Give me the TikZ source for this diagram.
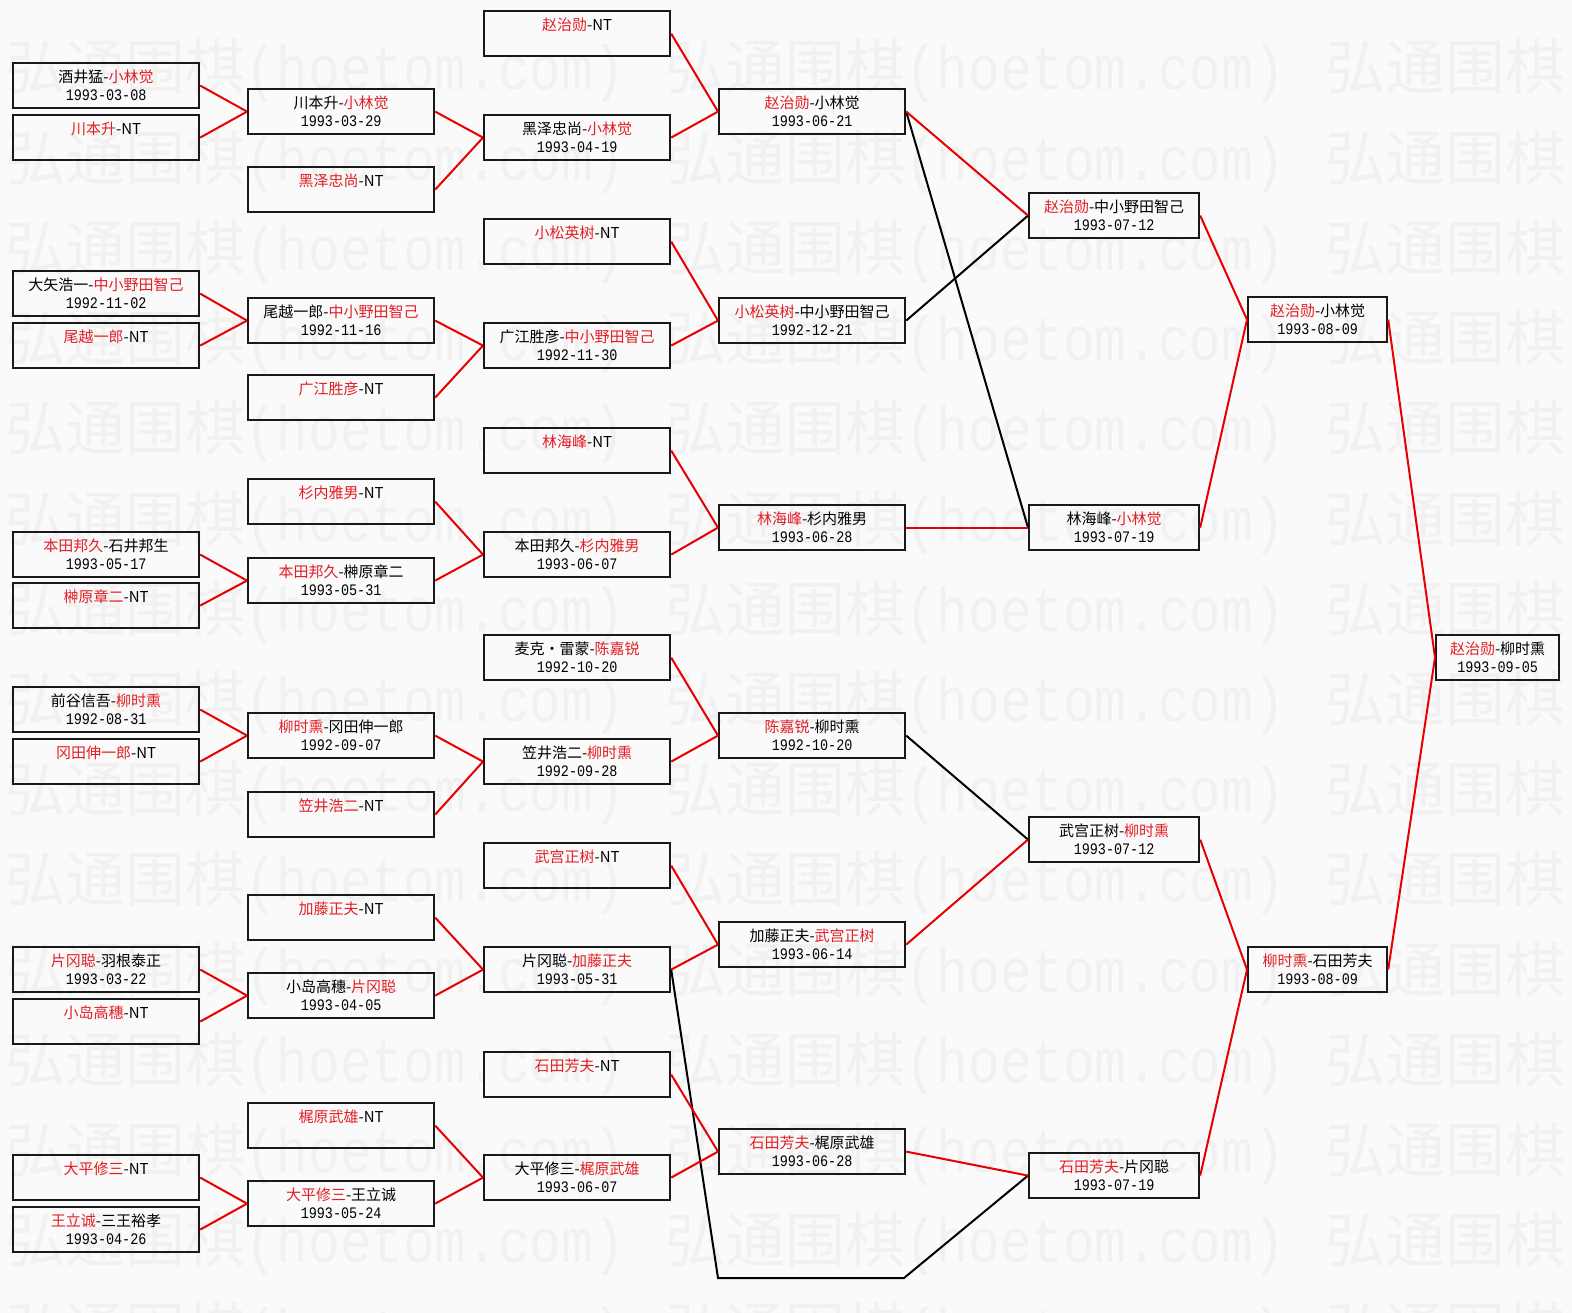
\documentclass[tikz,border=0pt]{standalone}
\usepackage{fontspec}
\usepackage{graphicx}
\setmainfont{Noto Sans CJK SC}
\newfontfamily\monof{Liberation Mono}
\definecolor{wr}{RGB}{226,30,38}
\definecolor{lr}{RGB}{232,0,0}
\definecolor{bgc}{RGB}{250,250,250}
\definecolor{wmc}{RGB}{241,241,241}
\definecolor{bdc}{RGB}{25,25,25}
\newcommand\R[1]{\textcolor{wr}{#1}}
\newcommand\dt[1]{\scalebox{0.84}[1]{#1}}
\tikzset{
 boxst/.style={draw=bdc, line width=2.2pt, minimum height=45pt, inner sep=0pt, anchor=north west},
 namest/.style={font=\fontsize{15}{15}\selectfont, inner sep=0pt, text=black},
 datest/.style={font=\fontsize{16}{16}\monof, inner sep=0pt, text=black},
 rl/.style={draw=lr, line width=2pt},
 bl/.style={draw=black, line width=2pt},
 wm/.style={text=wmc, inner sep=0pt, anchor=base west}
}
\newcommand\mybox[6]{%
 \node[boxst, minimum width=#4pt] (#1) at (#2,#3) {};
 \node[namest] (#1n) at ([yshift=-14.5pt]#1.north) {#5};
 \node[datest] (#1d) at ([yshift=-33pt]#1.north) {\dt{#6}};
}
\newcommand\mynt[5]{%
 \node[boxst, minimum width=#4pt] (#1) at (#2,#3) {};
 \node[namest] (#1n) at ([yshift=-14.5pt]#1.north) {#5};
}
\begin{document}
\begin{tikzpicture}[x=1pt,y=-1pt]
\fill[bgc] (0,0) rectangle (1572,1313);
\useasboundingbox (0,0) rectangle (1572,1313);
\begin{scope}
\clip (0,0) rectangle (1572,1313);
\foreach \k in {0,...,14}{
 \foreach \xx in {5,665,1325}{
  \node[wm] (wm\k x\xx) at (\xx,{90+90.2*\k}) {{\fontsize{60}{60}\selectfont 弘通围棋}{\fontsize{62}{62}\monof\scalebox{0.85}[1]{(hoetom.com)}}};
 }
}
\end{scope}

% column A
\mybox{A1}{12}{62}{186}{酒井猛-\R{小林觉}}{1993-03-08}
\mynt{A2}{12}{114}{186}{\R{川本升}-NT}
\mybox{A3}{12}{270}{186}{大矢浩一-\R{中小野田智己}}{1992-11-02}
\mynt{A4}{12}{322}{186}{\R{尾越一郎}-NT}
\mybox{A5}{12}{531}{186}{\R{本田邦久}-石井邦生}{1993-05-17}
\mynt{A6}{12}{582}{186}{\R{榊原章二}-NT}
\mybox{A7}{12}{686}{186}{前谷信吾-\R{柳时熏}}{1992-08-31}
\mynt{A8}{12}{738}{186}{\R{冈田伸一郎}-NT}
\mybox{A9}{12}{946}{186}{\R{片冈聪}-羽根泰正}{1993-03-22}
\mynt{A10}{12}{998}{186}{\R{小岛高穗}-NT}
\mynt{A11}{12}{1154}{186}{\R{大平修三}-NT}
\mybox{A12}{12}{1206}{186}{\R{王立诚}-三王裕孝}{1993-04-26}
% column B
\mybox{B1}{247}{88}{186}{川本升-\R{小林觉}}{1993-03-29}
\mynt{B2}{247}{166}{186}{\R{黑泽忠尚}-NT}
\mybox{B3}{247}{297}{186}{尾越一郎-\R{中小野田智己}}{1992-11-16}
\mynt{B4}{247}{374}{186}{\R{广江胜彦}-NT}
\mynt{B5}{247}{478}{186}{\R{杉内雅男}-NT}
\mybox{B6}{247}{557}{186}{\R{本田邦久}-榊原章二}{1993-05-31}
\mybox{B7}{247}{712}{186}{\R{柳时熏}-冈田伸一郎}{1992-09-07}
\mynt{B8}{247}{791}{186}{\R{笠井浩二}-NT}
\mynt{B9}{247}{894}{186}{\R{加藤正夫}-NT}
\mybox{B10}{247}{972}{186}{小岛高穗-\R{片冈聪}}{1993-04-05}
\mynt{B11}{247}{1102}{186}{\R{梶原武雄}-NT}
\mybox{B12}{247}{1180}{186}{\R{大平修三}-王立诚}{1993-05-24}
% column C
\mynt{C1}{483}{10}{186}{\R{赵治勋}-NT}
\mybox{C2}{483}{114}{186}{黑泽忠尚-\R{小林觉}}{1993-04-19}
\mynt{C3}{483}{218}{186}{\R{小松英树}-NT}
\mybox{C4}{483}{322}{186}{广江胜彦-\R{中小野田智己}}{1992-11-30}
\mynt{C5}{483}{427}{186}{\R{林海峰}-NT}
\mybox{C6}{483}{531}{186}{本田邦久-\R{杉内雅男}}{1993-06-07}
\mybox{C7}{483}{634}{186}{麦克・雷蒙-\R{陈嘉锐}}{1992-10-20}
\mybox{C8}{483}{738}{186}{笠井浩二-\R{柳时熏}}{1992-09-28}
\mynt{C9}{483}{842}{186}{\R{武宫正树}-NT}
\mybox{C10}{483}{946}{186}{片冈聪-\R{加藤正夫}}{1993-05-31}
\mynt{C11}{483}{1051}{186}{\R{石田芳夫}-NT}
\mybox{C12}{483}{1154}{186}{大平修三-\R{梶原武雄}}{1993-06-07}
% column D
\mybox{D1}{718}{88}{186}{\R{赵治勋}-小林觉}{1993-06-21}
\mybox{D2}{718}{297}{186}{\R{小松英树}-中小野田智己}{1992-12-21}
\mybox{D3}{718}{504}{186}{\R{林海峰}-杉内雅男}{1993-06-28}
\mybox{D4}{718}{712}{186}{\R{陈嘉锐}-柳时熏}{1992-10-20}
\mybox{D5}{718}{921}{186}{加藤正夫-\R{武宫正树}}{1993-06-14}
\mybox{D6}{718}{1128}{186}{\R{石田芳夫}-梶原武雄}{1993-06-28}
% column E
\mybox{E1}{1028}{192}{170}{\R{赵治勋}-中小野田智己}{1993-07-12}
\mybox{E2}{1028}{504}{170}{林海峰-\R{小林觉}}{1993-07-19}
\mybox{E3}{1028}{816}{170}{武宫正树-\R{柳时熏}}{1993-07-12}
\mybox{E4}{1028}{1152}{170}{\R{石田芳夫}-片冈聪}{1993-07-19}
% column F
\mybox{F1}{1247}{296}{139}{\R{赵治勋}-小林觉}{1993-08-09}
\mybox{F2}{1247}{946}{139}{\R{柳时熏}-石田芳夫}{1993-08-09}
% final
\mybox{G}{1435}{634}{123}{\R{赵治勋}-柳时熏}{1993-09-05}

% black connectors
\draw[bl] (D1.east) -- (E2.west);
\draw[bl] (D2.east) -- (E1.west);
\draw[bl] (D4.east) -- (E3.west);
\coordinate (p1) at (718,1278);
\coordinate (p2) at (904,1278);
\draw[bl] (C10.east) -- (p1) -- (p2) -- (E4.west);

% red connectors
\foreach \a/\b in {A1/B1,A2/B1,B1/C2,B2/C2,C1/D1,C2/D1,D1/E1,
 A3/B3,A4/B3,B3/C4,B4/C4,C3/D2,C4/D2,
 A5/B6,A6/B6,B5/C6,B6/C6,C5/D3,C6/D3,D3/E2,
 E1/F1,E2/F1,F1/G,
 A7/B7,A8/B7,B7/C8,B8/C8,C7/D4,C8/D4,
 A9/B10,A10/B10,B9/C10,B10/C10,C9/D5,C10/D5,D5/E3,
 A11/B12,A12/B12,B11/C12,B12/C12,C11/D6,C12/D6,D6/E4,
 E3/F2,E4/F2,F2/G}
 \draw[rl] (\a.east) -- (\b.west);
\end{tikzpicture}
\end{document}
